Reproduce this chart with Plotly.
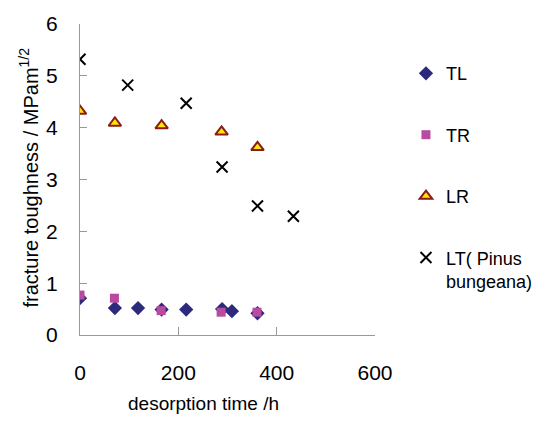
import plotly.graph_objects as go

# desorption time (h) and fracture toughness (MPa m^1/2)
tl_x = [0, 71, 118, 166, 216, 289, 309, 361]
tl_y = [0.71, 0.52, 0.52, 0.49, 0.49, 0.50, 0.46, 0.42]

tr_x = [0, 70, 165, 287, 360]
tr_y = [0.77, 0.71, 0.47, 0.44, 0.44]

lr_x = [0, 71, 166, 288, 361]
lr_y = [4.32, 4.09, 4.04, 3.92, 3.62]

lt_x = [0, 97, 216, 289, 361, 434]
lt_y = [5.32, 4.82, 4.47, 3.24, 2.49, 2.29]

x_ticks = [0, 200, 400, 600]
y_ticks = [0, 1, 2, 3, 4, 5, 6]

FONT = "Liberation Sans, Arial, sans-serif"

fig = go.Figure()
fig.add_trace(go.Scatter(x=tl_x, y=tl_y, mode="markers", name="TL", legendgroup="a",
                         marker=dict(symbol="diamond", size=11, color="#2B2A7D")))
fig.add_trace(go.Scatter(x=tr_x, y=tr_y, mode="markers", name="TR", legendgroup="b",
                         marker=dict(symbol="square", size=9, color="#B84AA0")))
fig.add_trace(go.Scatter(x=lr_x, y=lr_y, mode="markers", name="LR", legendgroup="c",
                         marker=dict(symbol="triangle-up", size=11, color="#FFE800",
                                     line=dict(color="#8B1A1A", width=2))))
fig.add_trace(go.Scatter(x=lt_x, y=lt_y, mode="markers", name="LT( Pinus<br>bungeana)",
                         legendgroup="d",
                         marker=dict(symbol="x-thin", size=11, color="black",
                                     line=dict(color="black", width=2))))

fig.update_layout(
    width=551, height=421,
    margin=dict(l=80, r=176, t=15, b=86),
    paper_bgcolor="white", plot_bgcolor="white",
    font=dict(family=FONT, color="black"),
    showlegend=True,
    legend=dict(x=1.105, y=0.90, xanchor="left", yanchor="top",
                font=dict(size=18, family=FONT), traceorder="grouped",
                tracegroupgap=35, valign="top", itemwidth=30,
                bgcolor="rgba(0,0,0,0)"),
    xaxis=dict(range=[0, 600], tickvals=x_ticks, showgrid=False, zeroline=False,
               showline=True, linecolor="#999999", linewidth=1,
               ticks="inside", ticklen=8, tickcolor="#999999",
               tickfont=dict(size=21), ticklabelstandoff=19),
    yaxis=dict(range=[0, 6], tickvals=y_ticks, showgrid=False, zeroline=False,
               showline=True, linecolor="#999999", linewidth=1,
               ticks="inside", ticklen=7, tickcolor="#999999",
               tickfont=dict(size=21), ticklabelstandoff=17),
    annotations=[
        dict(text="desorption time /h", xref="paper", yref="paper",
             x=(203 - 80) / 295, y=-(405 - 335) / 320, xanchor="center", yanchor="middle",
             showarrow=False, font=dict(size=19)),
        dict(text="fracture toughness / MPam<sup>1/2</sup>", xref="paper", yref="paper",
             x=-(80 - 29) / 295, y=(335 - 173) / 320, xanchor="center", yanchor="middle",
             textangle=-90, showarrow=False, font=dict(size=20)),
    ],
)

fig.write_html("out.html")
